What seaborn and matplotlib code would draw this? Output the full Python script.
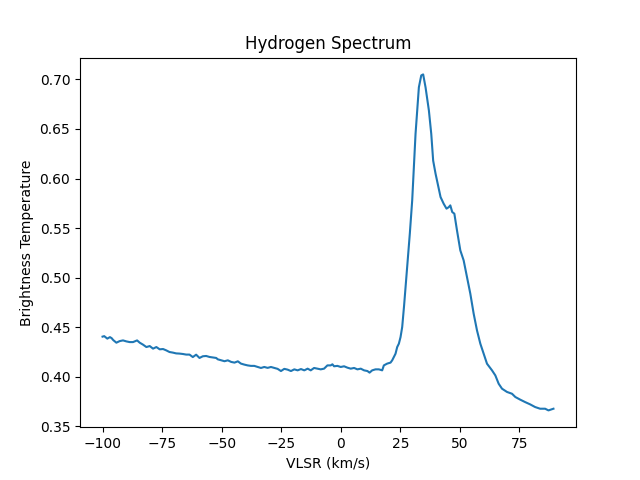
import matplotlib
matplotlib.use('Agg')
import matplotlib.pyplot as plt
import seaborn as sns
import pandas as pd

# values
vlsr = [-100.0, -99.3, -98.0, -96.9, -96.2, -95.5, -94.2, -92.8, -91.4, -90.0,
        -88.6, -87.2, -85.5, -84.4, -83.0, -81.6, -80.2, -78.8, -77.4, -76.0,
        -74.6, -73.3, -71.9, -70.5, -69.1, -67.7, -66.3, -64.9, -63.5, -62.1,
        -60.7, -59.3, -57.9, -56.5, -55.1, -53.7, -52.3, -51.6, -50.2, -48.8,
        -47.4, -46.0, -44.6, -43.2, -41.9, -40.5, -39.1, -37.7, -36.3, -34.9,
        -33.5, -32.1, -30.7, -29.3, -27.9, -26.5, -25.1, -23.7, -22.3, -20.9,
        -19.5, -18.1, -16.7, -15.3, -13.9, -12.6, -11.2, -9.8, -8.4, -7.0,
        -5.6, -4.2, -3.5, -2.8, -1.4, 0.0, 1.4, 2.8, 4.2, 5.6,
        7.0, 8.4, 9.8, 11.2, 12.1, 13.2, 14.6, 16.0, 17.4, 18.1,
        19.5, 20.9, 21.6, 22.3, 23.0, 23.7, 24.4, 25.1, 25.8, 26.6,
        27.9, 29.0, 30.0, 30.7, 31.4, 32.1, 32.8, 33.8, 34.6, 35.6,
        37.0, 38.0, 38.8, 39.8, 40.7, 41.9, 43.2, 44.4, 45.3, 46.0,
        46.8, 47.7, 48.8, 50.2, 51.6, 53.0, 54.4, 55.8, 57.2, 58.6,
        60.0, 61.4, 63.5, 64.9, 66.3, 67.7, 69.8, 71.9, 73.3, 75.3,
        77.4, 79.5, 81.6, 83.7, 85.8, 87.2, 89.3]
temp = [0.4405, 0.441, 0.4385, 0.440, 0.439, 0.437, 0.4344, 0.436, 0.4367, 0.4357,
        0.435, 0.435, 0.4367, 0.4344, 0.4324, 0.430, 0.431, 0.4284, 0.430, 0.4277,
        0.428, 0.4267, 0.425, 0.4244, 0.4236, 0.4234, 0.423, 0.4224, 0.4224, 0.4199,
        0.4223, 0.419, 0.4207, 0.421, 0.420, 0.4195, 0.419, 0.4176, 0.4166, 0.4157,
        0.4166, 0.415, 0.4143, 0.4156, 0.4133, 0.4123, 0.4115, 0.411, 0.411, 0.4099,
        0.4089, 0.4099, 0.409, 0.4099, 0.409, 0.408, 0.4058, 0.408, 0.4072, 0.4058,
        0.4075, 0.4065, 0.4078, 0.4065, 0.4082, 0.4065, 0.4089, 0.4082, 0.4075, 0.4082,
        0.4115, 0.4115, 0.4126, 0.4106, 0.411, 0.4099, 0.4106, 0.4092, 0.4082, 0.4089,
        0.4075, 0.4082, 0.4065, 0.4058, 0.4042, 0.4065, 0.4075, 0.4075, 0.4065, 0.4115,
        0.4133, 0.4143, 0.4166, 0.420, 0.4233, 0.430, 0.4334, 0.440, 0.4502, 0.472,
        0.5107, 0.5444, 0.578, 0.6115, 0.645, 0.6687, 0.692, 0.704, 0.705, 0.692,
        0.6687, 0.645, 0.618, 0.6049, 0.5948, 0.5813, 0.5746, 0.5696, 0.571, 0.5729,
        0.5662, 0.5645, 0.5477, 0.5275, 0.5174, 0.5006, 0.4838, 0.4637, 0.4468, 0.4334,
        0.4233, 0.4132, 0.4065, 0.4014, 0.393, 0.388, 0.3847, 0.3829, 0.3796, 0.377,
        0.3745, 0.3722, 0.3695, 0.3678, 0.3678, 0.3661, 0.3678]

df = pd.DataFrame({'vlsr': vlsr, 'temp': temp})

fig, ax = plt.subplots(figsize=(6.4, 4.8), dpi=100)
sns.lineplot(data=df, x='vlsr', y='temp', ax=ax, color='#1f77b4', linewidth=1.5)
ax.set_title('Hydrogen Spectrum')
ax.set_xlabel('VLSR (km/s)')
ax.set_ylabel('Brightness Temperature')
fig.savefig('out.png', dpi=100)
